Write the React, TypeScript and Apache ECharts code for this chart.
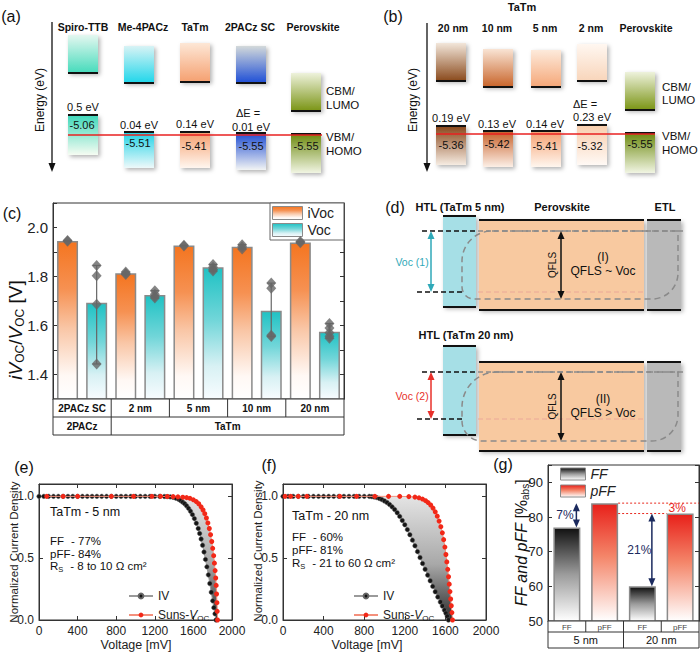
import React, { useEffect, useRef } from 'react';
import * as echarts from 'echarts';

const FONT = '"Liberation Sans", Arial, Helvetica, sans-serif';

// ---------------- (a) energy levels ----------------
const aLayers = ['Spiro-TTB', 'Me-4PACz', 'TaTm', '2PACz SC', 'Perovskite'];
const aHomo = ['-5.06', '-5.51', '-5.41', '-5.55', '-5.55'];
const aOffsets = ['0.5 eV', '0.04 eV', '0.14 eV', '0.01 eV', ''];

// ---------------- (b) energy levels ----------------
const bTitle = 'TaTm';
const bLayers = ['20 nm', '10 nm', '5 nm', '2 nm', 'Perovskite'];
const bHomo = ['-5.36', '-5.42', '-5.41', '-5.32', '-5.55'];
const bOffsets = ['0.19 eV', '0.13 eV', '0.14 eV', '0.23 eV', ''];

// ---------------- (c) iVoc / Voc ----------------
const cGroups = ['2PACz SC', '2 nm', '5 nm', '10 nm', '20 nm'];
const cFamilyNames = ['2PACz', 'TaTm'];
const cFamilySpans = [1, 4];
const iVocMean = [1.945, 1.813, 1.927, 1.921, 1.939];
const vocMean = [1.693, 1.725, 1.838, 1.66, 1.575];
const iVocPoints = [[1.947, 1.944], [1.818, 1.812, 1.808], [1.928, 1.925], [1.93, 1.921, 1.912], [1.943, 1.938]];
const vocPoints = [[1.845, 1.803, 1.687, 1.443], [1.742, 1.728, 1.718, 1.712], [1.849, 1.838, 1.829, 1.822], [1.773, 1.752, 1.56, 1.555], [1.608, 1.59, 1.57, 1.556, 1.548]];

// ---------------- (e) TaTm 5 nm ----------------
const eInfo = ['TaTm - 5 nm', '77%', '84%', '8 to 10 \u03A9 cm\u00B2'];
const iv5 = [[0, 1], [50, 1], [100, 1], [150, 1], [200, 1], [250, 1], [300, 1], [350, 1], [400, 1], [450, 1], [500, 1], [550, 1], [600, 1], [650, 1], [700, 1], [750, 1], [800, 1], [850, 1], [900, 1], [950, 1], [1000, 1], [1050, 1], [1100, 1], [1150, 1], [1200, 1], [1250, 1], [1300, 0.999], [1330, 0.998], [1360, 0.996], [1390, 0.992], [1420, 0.985], [1450, 0.975], [1470, 0.965], [1490, 0.953], [1510, 0.94], [1530, 0.923], [1550, 0.903], [1570, 0.88], [1590, 0.852], [1610, 0.82], [1630, 0.783], [1650, 0.74], [1665, 0.7], [1680, 0.655], [1695, 0.605], [1710, 0.55], [1725, 0.49], [1740, 0.43], [1755, 0.365], [1770, 0.295], [1785, 0.225], [1800, 0.155], [1812, 0.1], [1824, 0.05], [1834, 0]];
const suns5 = [[80, 1], [250, 1], [400, 1], [750, 1], [980, 1], [1170, 1], [1260, 1], [1330, 0.999], [1390, 0.998], [1440, 0.996], [1490, 0.993], [1530, 0.99], [1565, 0.984], [1600, 0.972], [1630, 0.958], [1655, 0.94], [1680, 0.915], [1700, 0.89], [1718, 0.86], [1735, 0.825], [1750, 0.785], [1765, 0.74], [1778, 0.69], [1790, 0.635], [1800, 0.58], [1810, 0.52], [1818, 0.46], [1825, 0.4], [1831, 0.34], [1836, 0.28], [1840, 0.21], [1844, 0.14], [1847, 0.07], [1850, 0]];

// ---------------- (f) TaTm 20 nm ----------------
const fInfo = ['TaTm - 20 nm', '60%', '81%', '21 to 60 \u03A9 cm\u00B2'];
const iv20 = [[0, 1], [50, 1], [100, 1], [150, 1], [200, 1], [250, 1], [300, 1], [350, 1], [400, 1], [450, 1], [500, 1], [550, 1], [600, 1], [650, 1], [700, 1], [750, 1], [800, 1], [850, 1], [875, 0.998], [900, 0.995], [925, 0.99], [950, 0.983], [975, 0.974], [1000, 0.963], [1025, 0.95], [1050, 0.934], [1075, 0.915], [1100, 0.894], [1125, 0.868], [1150, 0.838], [1175, 0.805], [1200, 0.77], [1225, 0.731], [1250, 0.69], [1275, 0.646], [1300, 0.6], [1325, 0.553], [1350, 0.505], [1375, 0.457], [1400, 0.41], [1425, 0.363], [1450, 0.317], [1475, 0.272], [1500, 0.228], [1525, 0.186], [1550, 0.146], [1570, 0.113], [1590, 0.08], [1605, 0.055], [1618, 0.03], [1630, 0]];
const suns20 = [[20, 1], [75, 1], [150, 1], [235, 1], [560, 1], [725, 1], [905, 1], [1040, 1], [1150, 1], [1240, 0.998], [1300, 0.994], [1340, 0.988], [1375, 0.978], [1405, 0.965], [1430, 0.95], [1455, 0.93], [1478, 0.905], [1500, 0.875], [1520, 0.84], [1538, 0.8], [1555, 0.755], [1570, 0.705], [1583, 0.65], [1595, 0.59], [1605, 0.53], [1614, 0.47], [1623, 0.41], [1631, 0.35], [1638, 0.29], [1645, 0.23], [1652, 0.17], [1658, 0.115], [1664, 0.06], [1670, 0]];

// ---------------- (g) FF / pFF ----------------
const gGroups = ['5 nm', '20 nm'];
const gMetrics = ['FF', 'pFF'];
const ffValues = [77, 60];
const pffValues = [84, 81];

// ---------------- layout ----------------
const cGrid = { left: 53, top: 203, width: 291, height: 196 };
const eGrid = { left: 39, top: 484, width: 193, height: 136 };
const fGrid = { left: 283, top: 484, width: 203, height: 136 };
const gGrid = { left: 548, top: 465, width: 151, height: 156 };

const aGeom = [
  { x: 68, top: [35, 73], bot: [115, 155], hx: 83, off: [83, 107], homo: [82, 125] },
  { x: 124, top: [46, 83], bot: [132, 168], hx: 143, off: [139, 125], homo: [138, 143] },
  { x: 180, top: [43, 82], bot: [132, 168], hx: 195, off: [195, 124], homo: [194, 146] },
  { x: 236, top: [46, 83], bot: [133, 170], hx: 250, off: [251, 127], homo: [251, 146] },
  { x: 291, top: [73, 111], bot: [134, 173], hx: 313, off: [0, 0], homo: [306, 146] },
];
const aFill = [
  ['#e4f7f0', '#45dbbb', '#3ed7ba', '#f6fcf2'],
  ['#d8f3f5', '#1fd6ea', '#1fd2e6', '#eef9fa'],
  ['#fde7d6', '#f5a070', '#f59f6e', '#fff6ef'],
  ['#d3d9da', '#1e4ed6', '#1e4cd2', '#f2f4f4'],
  ['#eef2dc', '#7a9414', '#6d8a10', '#f1f5e3'],
];
const bGeom = [
  { x: 436, top: [43, 81], bot: [126, 165], hx: 453, off: [451, 118], homo: [451, 145] },
  { x: 483, top: [49, 87], bot: [131, 167], hx: 497, off: [497, 124], homo: [497, 144] },
  { x: 531, top: [50, 87], bot: [131, 167], hx: 545, off: [545, 124], homo: [545, 146] },
  { x: 577, top: [44, 81], bot: [125, 165], hx: 591, off: [592, 117], homo: [590, 146] },
  { x: 625, top: [72, 110], bot: [133, 173], hx: 646, off: [0, 0], homo: [640, 144] },
];
const bFill = [
  ['#f2e6da', '#8a4a1c', '#88461a', '#f6ece2'],
  ['#f9e4d4', '#c8642a', '#c65f28', '#fcefe6'],
  ['#fdeadb', '#f5a778', '#f5a070', '#fff6ee'],
  ['#fff7f1', '#f8d5ba', '#f8cead', '#fff9f5'],
  ['#eef2dc', '#7a9414', '#6d8a10', '#f1f5e3'],
];

// ---------------- helpers ----------------
function vgrad(stops: any[]) {
  return new echarts.graphic.LinearGradient(0, 0, 0, 1, stops.map((s: any) => ({ offset: s[0], color: s[1] })));
}
function T(x: number, y: number, text: string, o: any = {}) {
  const style: any = {
    text, fill: o.color || '#111', fontSize: o.fontSize || 11, fontFamily: FONT,
    fontWeight: o.fontWeight || 'normal', fontStyle: o.fontStyle || 'normal',
    align: o.align || 'center', verticalAlign: o.va || 'middle',
    textAlign: o.align || 'center', textVerticalAlign: o.va || 'middle',
  };
  if (o.rich) style.rich = o.rich;
  return { type: 'text', x, y, rotation: o.rotation || 0, silent: true, z: o.z || 20, style };
}
function R(x: number, y: number, w: number, h: number, fill: any, o: any = {}) {
  return {
    type: 'rect', silent: true, z: o.z || 10,
    shape: { x, y, width: w, height: h, r: o.r || 0 },
    style: { fill, stroke: o.stroke || null, lineWidth: o.lineWidth || 1, lineDash: o.dash || null,
      shadowBlur: o.shadow ? 4 : 0, shadowOffsetX: o.shadow ? 2 : 0, shadowOffsetY: o.shadow ? 2 : 0,
      shadowColor: 'rgba(0,0,0,0.3)' },
  };
}
function L(x1: number, y1: number, x2: number, y2: number, color: string, w = 1, dash: any = null, z = 15) {
  return { type: 'line', silent: true, z, shape: { x1, y1, x2, y2 }, style: { stroke: color, lineWidth: w, lineDash: dash } };
}
function P(points: number[][], fill: string, z = 15) {
  return { type: 'polygon', silent: true, z, shape: { points }, style: { fill } };
}
function dArrow(x: number, y1: number, y2: number, color: string, w = 1.5) {
  return [
    L(x, y1 + 5, x, y2 - 5, color, w),
    P([[x, y1], [x - 3.5, y1 + 8], [x + 3.5, y1 + 8]], color),
    P([[x, y2], [x - 3.5, y2 - 8], [x + 3.5, y2 - 8]], color),
  ];
}

function energyPanel(layers: string[], homo: string[], offsets: string[], geom: any[], fills: string[][], cfg: any) {
  const els: any[] = [];
  els.push(L(cfg.ax, cfg.ay[0], cfg.ax, cfg.ay[1] - 6, '#111', 1.3));
  els.push(P([[cfg.ax - 3.5, cfg.ay[1] - 9], [cfg.ax + 3.5, cfg.ay[1] - 9], [cfg.ax, cfg.ay[1]]], '#111'));
  els.push(T(cfg.ex, 100, 'Energy (eV)', { fontSize: 12, rotation: Math.PI / 2 }));
  els.push(T(cfg.label[0], cfg.label[1], cfg.labelText, { fontSize: 16 }));
  layers.forEach((name, i) => {
    const g = geom[i];
    const f = fills[i];
    const w = 30;
    els.push(T(g.hx, cfg.hy, name, { fontWeight: 'bold', fontSize: 10.5 }));
    els.push(R(g.x, g.top[0], w, g.top[1] - g.top[0], vgrad([[0, f[0]], [1, f[1]]]), { shadow: true }));
    els.push(R(g.x, g.bot[0], w, g.bot[1] - g.bot[0], vgrad([[0, f[2]], [1, f[3]]]), { shadow: true }));
    els.push(L(g.x, g.top[1], g.x + w, g.top[1], '#111', 2));
    els.push(L(g.x, g.bot[0], g.x + w, g.bot[0], '#111', 2));
    if (offsets[i]) els.push(T(g.off[0], g.off[1], offsets[i], { fontSize: 11 }));
    els.push(T(g.homo[0], g.homo[1], homo[i], { fontSize: 11, z: 22 }));
  });
  els.push(T(cfg.delta[0], cfg.delta[1], '\u0394E =', { fontSize: 11 }));
  els.push(L(cfg.red[0], cfg.red[2], cfg.red[1], cfg.red[2], '#e82020', 1.5, null, 18));
  const t = ['CBM/', 'LUMO', 'VBM/', 'HOMO'];
  t.forEach((s, k) => els.push(T(cfg.side[0], cfg.side[1][k], s, { fontSize: 11.5, align: 'left' })));
  return els;
}

function panelD() {
  const els: any[] = [];
  els.push(T(395, 207, '(d)', { fontSize: 16 }));
  els.push(T(460, 207, 'HTL (TaTm 5 nm)', { fontWeight: 'bold', fontSize: 11 }));
  els.push(T(562, 207, 'Perovskite', { fontWeight: 'bold', fontSize: 11 }));
  els.push(T(665, 207, 'ETL', { fontWeight: 'bold', fontSize: 11 }));
  els.push(T(466, 335, 'HTL (TaTm 20 nm)', { fontWeight: 'bold', fontSize: 11 }));
  const rows = [
    { htl: [216, 307], per: [220, 310], top: 231, low: 292, bottom: 299, r: [30, 0, 26, 12], col: '#2fa9b8', voc: 'Voc (1)', roman: '(I)', rel: 'QFLS ~ Voc' },
    { htl: [346, 435], per: [362, 451], top: 372, low: 419, bottom: 441, r: [35, 0, 26, 20], col: '#e8302a', voc: 'Voc (2)', roman: '(II)', rel: 'QFLS > Voc' },
  ];
  rows.forEach((r) => {
    els.push(R(443, r.htl[0], 33, r.htl[1] - r.htl[0], '#a6dfe6', { shadow: true }));
    els.push(L(443, r.htl[0], 476, r.htl[0], '#111', 2));
    els.push(L(443, r.htl[1], 476, r.htl[1], '#111', 2));
    els.push(R(479, r.per[0], 165, r.per[1] - r.per[0], '#f8c9a0', { shadow: true }));
    els.push(L(479, r.per[0], 644, r.per[0], '#111', 2));
    els.push(L(479, r.per[1], 644, r.per[1], '#111', 2));
    els.push(R(647, r.per[0], 34, r.per[1] - r.per[0], '#b9b9b9', { shadow: true }));
    els.push(L(647, r.per[0], 681, r.per[0], '#111', 2));
    els.push(L(647, r.per[1], 681, r.per[1], '#111', 2));
    els.push(L(422, r.top, 478, r.top, '#111', 1.5, [5, 3]));
    els.push(L(478, r.top, 686, r.top, '#8a8a8a', 1.5, [5, 3]));
    els.push(L(417, r.low, 462, r.low, '#111', 1.5, [5, 3]));
    els.push(L(478, r.low, 644, r.low, '#eba898', 1, [5, 3]));
    els.push(R(462, r.top, 216, r.bottom - r.top, 'none', { stroke: '#8a8a8a', lineWidth: 1.5, dash: [6, 4], r: r.r, z: 16 }));
    dArrow(431, r.top, r.low, r.col).forEach((e) => els.push(e));
    els.push(T(412, (r.top + r.low) / 2, r.voc, { fontSize: 10.5, color: r.col }));
    dArrow(561, r.top, r.bottom, '#111').forEach((e) => els.push(e));
    els.push(T(552, (r.top + r.bottom) / 2, 'QFLS', { fontSize: 10, rotation: Math.PI / 2 }));
    els.push(T(603, (r.top + r.bottom) / 2 - 8, r.roman, { fontSize: 12 }));
    els.push(T(603, (r.top + r.bottom) / 2 + 6, r.rel, { fontSize: 12 }));
  });
  return els;
}

function tableC() {
  const els: any[] = [];
  const n = cGroups.length * 2;
  const slot = cGrid.width / n;
  const y0 = cGrid.top + cGrid.height;
  const h = 18;
  els.push(R(cGrid.left, y0, cGrid.width, 2 * h, '#fff', { stroke: '#333', lineWidth: 1 }));
  els.push(L(cGrid.left, y0 + h, cGrid.left + cGrid.width, y0 + h, '#333', 1));
  cGroups.forEach((g, i) => {
    const x0 = cGrid.left + i * 2 * slot;
    if (i > 0) els.push(L(x0, y0, x0, y0 + h, '#333', 1));
    els.push(T(x0 + slot, y0 + h / 2, g, { fontWeight: 'bold', fontSize: 10 }));
  });
  let acc = 0;
  cFamilyNames.forEach((name, k) => {
    const x0 = cGrid.left + acc * 2 * slot;
    const w = cFamilySpans[k] * 2 * slot;
    if (k > 0) els.push(L(x0, y0 + h, x0, y0 + 2 * h, '#333', 1));
    els.push(T(x0 + w / 2, y0 + 1.5 * h, name, { fontWeight: 'bold', fontSize: 10 }));
    acc += cFamilySpans[k];
  });
  return els;
}

function tableG() {
  const els: any[] = [];
  const n = gGroups.length * gMetrics.length;
  const slot = gGrid.width / n;
  const y0 = gGrid.top + gGrid.height;
  const h1 = 11;
  const h2 = 16;
  els.push(R(gGrid.left, y0, gGrid.width, h1 + h2, '#fff', { stroke: '#333', lineWidth: 1 }));
  els.push(L(gGrid.left, y0 + h1, gGrid.left + gGrid.width, y0 + h1, '#333', 1));
  gGroups.forEach((g, gi) => {
    gMetrics.forEach((m, mi) => {
      const k = gi * gMetrics.length + mi;
      const x0 = gGrid.left + k * slot;
      if (k > 0) els.push(L(x0, y0, x0, y0 + h1, '#333', 1));
      els.push(T(x0 + slot / 2, y0 + h1 / 2 + 0.5, m, { fontSize: 8, color: '#444' }));
    });
    const gx = gGrid.left + gi * gMetrics.length * slot;
    if (gi > 0) els.push(L(gx, y0 + h1, gx, y0 + h1 + h2, '#333', 1));
    els.push(T(gx + (gMetrics.length * slot) / 2, y0 + h1 + h2 / 2, g, { fontSize: 11 }));
  });
  return els;
}

function infoText(x: number, ys: number[], info: string[]) {
  const rich = {
    l: { width: 21, fontSize: 11.5, fontFamily: FONT, color: '#111' },
    v: { fontSize: 11.5, fontFamily: FONT, color: '#111' },
    r: { fontSize: 11.5, fontFamily: FONT, color: '#111' },
    s: { fontSize: 7.5, fontFamily: FONT, color: '#111', padding: [7, 0, 0, 0] },
    g: { width: 21 - 14, fontSize: 11.5 },
  };
  return [
    T(x, ys[0], info[0], { fontSize: 12.5, align: 'left' }),
    T(x, ys[1], `{l|FF}{v|- ${info[1]}}`, { align: 'left', rich }),
    T(x, ys[2], `{l|pFF}{v|- ${info[2]}}`, { align: 'left', rich }),
    T(x, ys[3], `{r|R}{s|S}{g| }{v|- ${info[3]}}`, { align: 'left', rich }),
  ];
}

const vocRich = {
  n: { fontSize: 12, fontFamily: FONT, color: '#222' },
  i: { fontSize: 12, fontFamily: FONT, color: '#222', fontStyle: 'italic' },
  s: { fontSize: 8, fontFamily: FONT, color: '#222', padding: [6, 0, 0, 0] },
};

function fillSeries(xi: number, yi: number, iv: number[][], suns: number[][]) {
  return {
    type: 'custom', xAxisIndex: xi, yAxisIndex: yi, silent: true, z: 1,
    data: [[0, 0]],
    renderItem: (params: any, api: any) => {
      const pts = iv.map((p) => api.coord(p)).concat(suns.slice().reverse().map((p) => api.coord(p)));
      return {
        type: 'polygon', shape: { points: pts },
        style: { fill: vgrad([[0, '#e4e4e4'], [0.55, '#a8a8a8'], [1, '#2c2c2c']]), stroke: null },
      };
    },
  };
}

function lineSeries(name: string, xi: number, yi: number, data: number[][], red: boolean) {
  return {
    name, type: 'line', xAxisIndex: xi, yAxisIndex: yi, data, showSymbol: true, showAllSymbol: true,
    symbol: 'circle', symbolSize: red ? 5 : 4.5, z: red ? 4 : 3,
    lineStyle: { color: red ? '#f4907c' : '#9a9a9a', width: 1 },
    itemStyle: red ? { color: '#f22818' } : { color: '#151515', borderColor: '#666', borderWidth: 0.5 },
  };
}

function buildOption() {
  const cCats = cGroups.flatMap((g) => [g + ' iVoc', g + ' Voc']);
  const iVocBar = cCats.map((_, i) => (i % 2 === 0 ? iVocMean[i / 2] : '-'));
  const vocBar = cCats.map((_, i) => (i % 2 === 1 ? vocMean[(i - 1) / 2] : '-'));
  const cPts: any[] = [];
  const cErr: any[] = [];
  cGroups.forEach((_, gi) => {
    [iVocPoints[gi], vocPoints[gi]].forEach((arr, k) => {
      const idx = gi * 2 + k;
      arr.forEach((v) => cPts.push([idx, v]));
      cErr.push([idx, Math.min(...arr), Math.max(...arr)]);
    });
  });
  const gCats = gGroups.flatMap((g) => gMetrics.map((m) => m + ' ' + g));
  const ffBar = gCats.map((_, i) => (i % 2 === 0 ? ffValues[i / 2] : '-'));
  const pffBar = gCats.map((_, i) => (i % 2 === 1 ? pffValues[(i - 1) / 2] : '-'));

  const axisLine = { show: true, onZero: false, lineStyle: { color: '#333', width: 1 } };
  const tickIn = { show: true, inside: true, length: 4, lineStyle: { color: '#333' } };
  const noSplit = { show: false };
  const lab = (fs: number, fmt?: any) => ({ fontSize: fs, color: '#222', fontFamily: FONT, margin: 5, formatter: fmt });
  const hide = { show: false };

  const iVocGrad = vgrad([[0, '#f47520'], [0.3, '#f69152'], [0.55, '#f9c6a6'], [0.85, '#fff8f4'], [1, '#ffffff']]);
  const vocGrad = vgrad([[0, '#1fc2c4'], [0.4, '#72d6d9'], [0.75, '#d8f1f4'], [1, '#f8fcff']]);
  const ffGrad = vgrad([[0, '#111111'], [0.5, '#9c9c9c'], [1, '#ffffff']]);
  const pffGrad = vgrad([[0, '#e8201a'], [0.45, '#f4866a'], [1, '#ffffff']]);

  const graphics: any[] = [];
  energyPanel(aLayers, aHomo, aOffsets, aGeom, aFill, {
    ax: 52, ay: [22, 172], ex: 40, hy: 27, label: [11, 16], labelText: '(a)',
    delta: [248, 113], red: [68, 322, 135], side: [326, [91, 105, 137, 151]],
  }).forEach((e) => graphics.push(e));
  energyPanel(bLayers, bHomo, bOffsets, bGeom, bFill, {
    ax: 427, ay: [23, 172], ex: 413, hy: 28, label: [393, 16], labelText: '(b)',
    delta: [585, 104], red: [436, 655, 134], side: [662, [87, 100, 136, 150]],
  }).forEach((e) => graphics.push(e));
  graphics.push(T(522, 7, bTitle, { fontWeight: 'bold', fontSize: 11 }));
  panelD().forEach((e) => graphics.push(e));
  tableC().forEach((e) => graphics.push(e));
  tableG().forEach((e) => graphics.push(e));
  graphics.push(T(12, 213, '(c)', { fontSize: 16 }));
  graphics.push(T(24, 467, '(e)', { fontSize: 16 }));
  graphics.push(T(269, 465, '(f)', { fontSize: 16 }));
  graphics.push(T(503, 464, '(g)', { fontSize: 16 }));
  // axis titles
  graphics.push(T(15, 330, '{i|iV}{s|OC}{n|/}{i|V}{s|OC}{n| [V]}', {
    rotation: Math.PI / 2,
    rich: {
      i: { fontSize: 19, fontStyle: 'italic', fontFamily: FONT, color: '#222' },
      n: { fontSize: 19, fontFamily: FONT, color: '#222' },
      s: { fontSize: 12, fontFamily: FONT, color: '#222', padding: [10, 0, 0, 0] },
    },
  }));
  graphics.push(T(14, 552, 'Normalized Current Density', { fontSize: 11.5, rotation: Math.PI / 2, color: '#222' }));
  graphics.push(T(258, 551, 'Normalized Current Density', { fontSize: 11.5, rotation: Math.PI / 2, color: '#222' }));
  graphics.push(T(136, 645, 'Voltage [mV]', { fontSize: 12.5, color: '#222' }));
  graphics.push(T(367, 645, 'Voltage [mV]', { fontSize: 12.5, color: '#222' }));
  graphics.push(T(521, 543, '{i|FF and pFF }{n|[%}{s|abs}{n|]}', {
    rotation: Math.PI / 2,
    rich: {
      i: { fontSize: 16, fontStyle: 'italic', fontFamily: FONT, color: '#222' },
      n: { fontSize: 16, fontFamily: FONT, color: '#222' },
      s: { fontSize: 10, fontFamily: FONT, color: '#222', padding: [8, 0, 0, 0] },
    },
  }));
  infoText(50, [512, 541, 553.5, 566], eInfo).forEach((e) => graphics.push(e));
  infoText(292, [516, 537, 550, 563], fInfo).forEach((e) => graphics.push(e));

  const gAnnot = (params: any, api: any) => {
    const bw = 13.5;
    const right = params.coordSys.x + params.coordSys.width;
    const p1 = api.coord([1, pffValues[0]]);
    const p3 = api.coord([3, pffValues[1]]);
    const f0 = api.coord([0, ffValues[0]]);
    const f2 = api.coord([2, ffValues[1]]);
    const red = '#e8281e';
    const navy = '#1b2a5e';
    const tx = (x: number, y: number, s: string, c: string) => ({
      type: 'text', x, y, style: { text: s, fill: c, fontSize: 12, fontFamily: FONT, align: 'center', verticalAlign: 'middle', textAlign: 'center', textVerticalAlign: 'middle' },
    });
    return {
      type: 'group',
      children: [
        { type: 'line', shape: { x1: p1[0] + bw, y1: p1[1], x2: right, y2: p1[1] }, style: { stroke: red, lineWidth: 1, lineDash: [2, 2] } },
        { type: 'line', shape: { x1: p1[0] + bw, y1: p3[1], x2: p3[0] - bw, y2: p3[1] }, style: { stroke: red, lineWidth: 1, lineDash: [2, 2] } },
        tx(p3[0] - 3, p3[1] - 6, `${pffValues[0] - pffValues[1]}%`, red),
        ...dArrow(f0[0] + 9.5, p1[1], f0[1], navy),
        tx(f0[0] - 2, (p1[1] + f0[1]) / 2, `${pffValues[0] - ffValues[0]}%`, navy),
        ...dArrow(f2[0] + 9.5, p3[1], f2[1], navy),
        tx(f2[0] - 3, (p3[1] + f2[1]) / 2, `${pffValues[1] - ffValues[1]}%`, navy),
      ],
    };
  };

  const errRender = (params: any, api: any) => {
    const x = api.value(0);
    const lo = api.coord([x, api.value(1)]);
    const hi = api.coord([x, api.value(2)]);
    const st = { stroke: '#666', lineWidth: 1.2 };
    return {
      type: 'group',
      children: [
        { type: 'line', shape: { x1: lo[0], y1: lo[1], x2: hi[0], y2: hi[1] }, style: st },
        { type: 'line', shape: { x1: hi[0] - 4, y1: hi[1], x2: hi[0] + 4, y2: hi[1] }, style: st },
        { type: 'line', shape: { x1: lo[0] - 4, y1: lo[1], x2: lo[0] + 4, y2: lo[1] }, style: st },
      ],
    };
  };

  const gridStyle = { show: true, borderColor: '#333', borderWidth: 1, backgroundColor: 'transparent', containLabel: false };
  const valueY = (gi: number, min: number, max: number, interval: number, fs: number, fmt: any, right = false) => ({
    gridIndex: gi, type: 'value', min, max, interval, position: right ? 'right' : 'left',
    axisLine, axisTick: tickIn, splitLine: noSplit,
    axisLabel: right ? hide : lab(fs, fmt),
  });
  const fmtC = (v: number) => (Math.round(v * 10) % 2 === 0 ? v.toFixed(1) : '');
  const fmtE = (v: number) => (Math.abs(v * 2 - Math.round(v * 2)) < 1e-6 ? v.toFixed(1) : '');
  const fmtG = (v: number) => (Math.abs(v % 10) < 1e-6 ? String(v) : '');
  const fmtX = (v: number) => String(Math.round(v));

  const ivLegend = (left: number, top: number) => ({
    data: ['IV', 'Suns-VOC'], left, top, orient: 'vertical', itemWidth: 24, itemHeight: 6, itemGap: 7, padding: 0,
    formatter: (n: string) => (n === 'IV' ? '{n|IV}' : '{n|Suns-}{i|V}{s|OC}'),
    textStyle: { fontSize: 12, color: '#222', fontFamily: FONT, rich: vocRich },
  });

  return {
    animation: false,
    backgroundColor: '#ffffff',
    textStyle: { fontFamily: FONT },
    grid: [
      { ...cGrid, ...gridStyle },
      { ...eGrid, ...gridStyle },
      { ...fGrid, ...gridStyle },
      { ...gGrid, ...gridStyle },
    ],
    xAxis: [
      { gridIndex: 0, type: 'category', data: cCats, axisLine, axisTick: hide, axisLabel: hide },
      { gridIndex: 1, type: 'value', min: 0, max: 2000, interval: 400, axisLine, axisTick: tickIn, splitLine: noSplit, axisLabel: lab(12, fmtX) },
      { gridIndex: 1, type: 'value', position: 'top', min: 0, max: 2000, interval: 400, axisLine, axisTick: tickIn, splitLine: noSplit, axisLabel: hide },
      { gridIndex: 2, type: 'value', min: 0, max: 2000, interval: 400, axisLine, axisTick: tickIn, splitLine: noSplit, axisLabel: lab(12, fmtX) },
      { gridIndex: 2, type: 'value', position: 'top', min: 0, max: 2000, interval: 400, axisLine, axisTick: tickIn, splitLine: noSplit, axisLabel: hide },
      { gridIndex: 3, type: 'category', data: gCats, axisLine, axisTick: hide, axisLabel: hide },
    ],
    yAxis: [
      valueY(0, 1.3, 2.1, 0.1, 15, fmtC),
      valueY(0, 1.3, 2.1, 0.1, 15, fmtC, true),
      valueY(1, 0, 1.1, 0.5, 12, fmtE),
      valueY(1, 0, 1.1, 0.5, 12, fmtE, true),
      valueY(2, 0, 1.1, 0.5, 12, fmtE),
      valueY(2, 0, 1.1, 0.5, 12, fmtE, true),
      valueY(3, 50, 95, 10, 13, fmtG),
      valueY(3, 50, 95, 10, 13, fmtG, true),
    ],
    legend: [
      {
        data: ['iVoc', 'Voc'], left: 270, top: 203, orient: 'vertical', itemWidth: 30, itemHeight: 13, itemGap: 3,
        padding: [3, 10, 3, 2], borderColor: '#666', borderWidth: 1, icon: 'rect', backgroundColor: '#fff',
        itemStyle: { borderColor: '#8a8a8a', borderWidth: 1 },
        textStyle: { fontSize: 14, color: '#222', fontFamily: FONT },
      },
      ivLegend(128, 590),
      ivLegend(353, 590),
      {
        data: ['FF', 'pFF'], left: 560, top: 467, orient: 'vertical', itemWidth: 25, itemHeight: 12, itemGap: 3, padding: 0,
        icon: 'rect', itemStyle: { borderColor: '#8a8a8a', borderWidth: 1 },
        textStyle: { fontSize: 14, color: '#222', fontFamily: FONT, fontStyle: 'italic' },
      },
    ],
    series: [
      { name: 'iVoc', type: 'bar', xAxisIndex: 0, yAxisIndex: 0, data: iVocBar, barWidth: 21, barGap: '-100%', z: 2,
        itemStyle: { color: iVocGrad, borderColor: '#8a8a8a', borderWidth: 1.5 } },
      { name: 'Voc', type: 'bar', xAxisIndex: 0, yAxisIndex: 0, data: vocBar, barWidth: 21, barGap: '-100%', z: 2,
        itemStyle: { color: vocGrad, borderColor: '#8a8a8a', borderWidth: 1.5 } },
      { name: 'spread', type: 'custom', xAxisIndex: 0, yAxisIndex: 0, data: cErr, encode: { x: 0, y: [1, 2] }, renderItem: errRender, z: 3, silent: true },
      { name: 'cells', type: 'scatter', xAxisIndex: 0, yAxisIndex: 0, data: cPts, symbol: 'diamond', symbolSize: [10, 11], z: 4,
        itemStyle: { color: '#666' } },
      fillSeries(1, 2, iv5, suns5),
      lineSeries('IV', 1, 2, iv5, false),
      lineSeries('Suns-VOC', 1, 2, suns5, true),
      fillSeries(3, 4, iv20, suns20),
      lineSeries('IV', 3, 4, iv20, false),
      lineSeries('Suns-VOC', 3, 4, suns20, true),
      { name: 'FF', type: 'bar', xAxisIndex: 5, yAxisIndex: 6, data: ffBar, barWidth: 27, barGap: '-100%', z: 2,
        itemStyle: { color: ffGrad, borderColor: '#8a8a8a', borderWidth: 1.5 } },
      { name: 'pFF', type: 'bar', xAxisIndex: 5, yAxisIndex: 6, data: pffBar, barWidth: 27, barGap: '-100%', z: 2,
        itemStyle: { color: pffGrad, borderColor: '#8a8a8a', borderWidth: 1.5 } },
      { name: 'gaps', type: 'custom', xAxisIndex: 5, yAxisIndex: 6, data: [[0, 50]], renderItem: gAnnot, z: 6, silent: true },
    ],
    graphic: { elements: graphics },
  };
}

export default function App() {
  const ref = useRef<HTMLDivElement>(null);
  useEffect(() => {
    if (!ref.current) return;
    const chart = echarts.init(ref.current, null, { renderer: 'svg' });
    chart.setOption(buildOption() as any);
    return () => chart.dispose();
  }, []);
  return (
    <div
      ref={ref}
      style={{ position: 'absolute', left: 0, top: 0, width: 700, height: 655, background: '#fff' }}
    />
  );
}
